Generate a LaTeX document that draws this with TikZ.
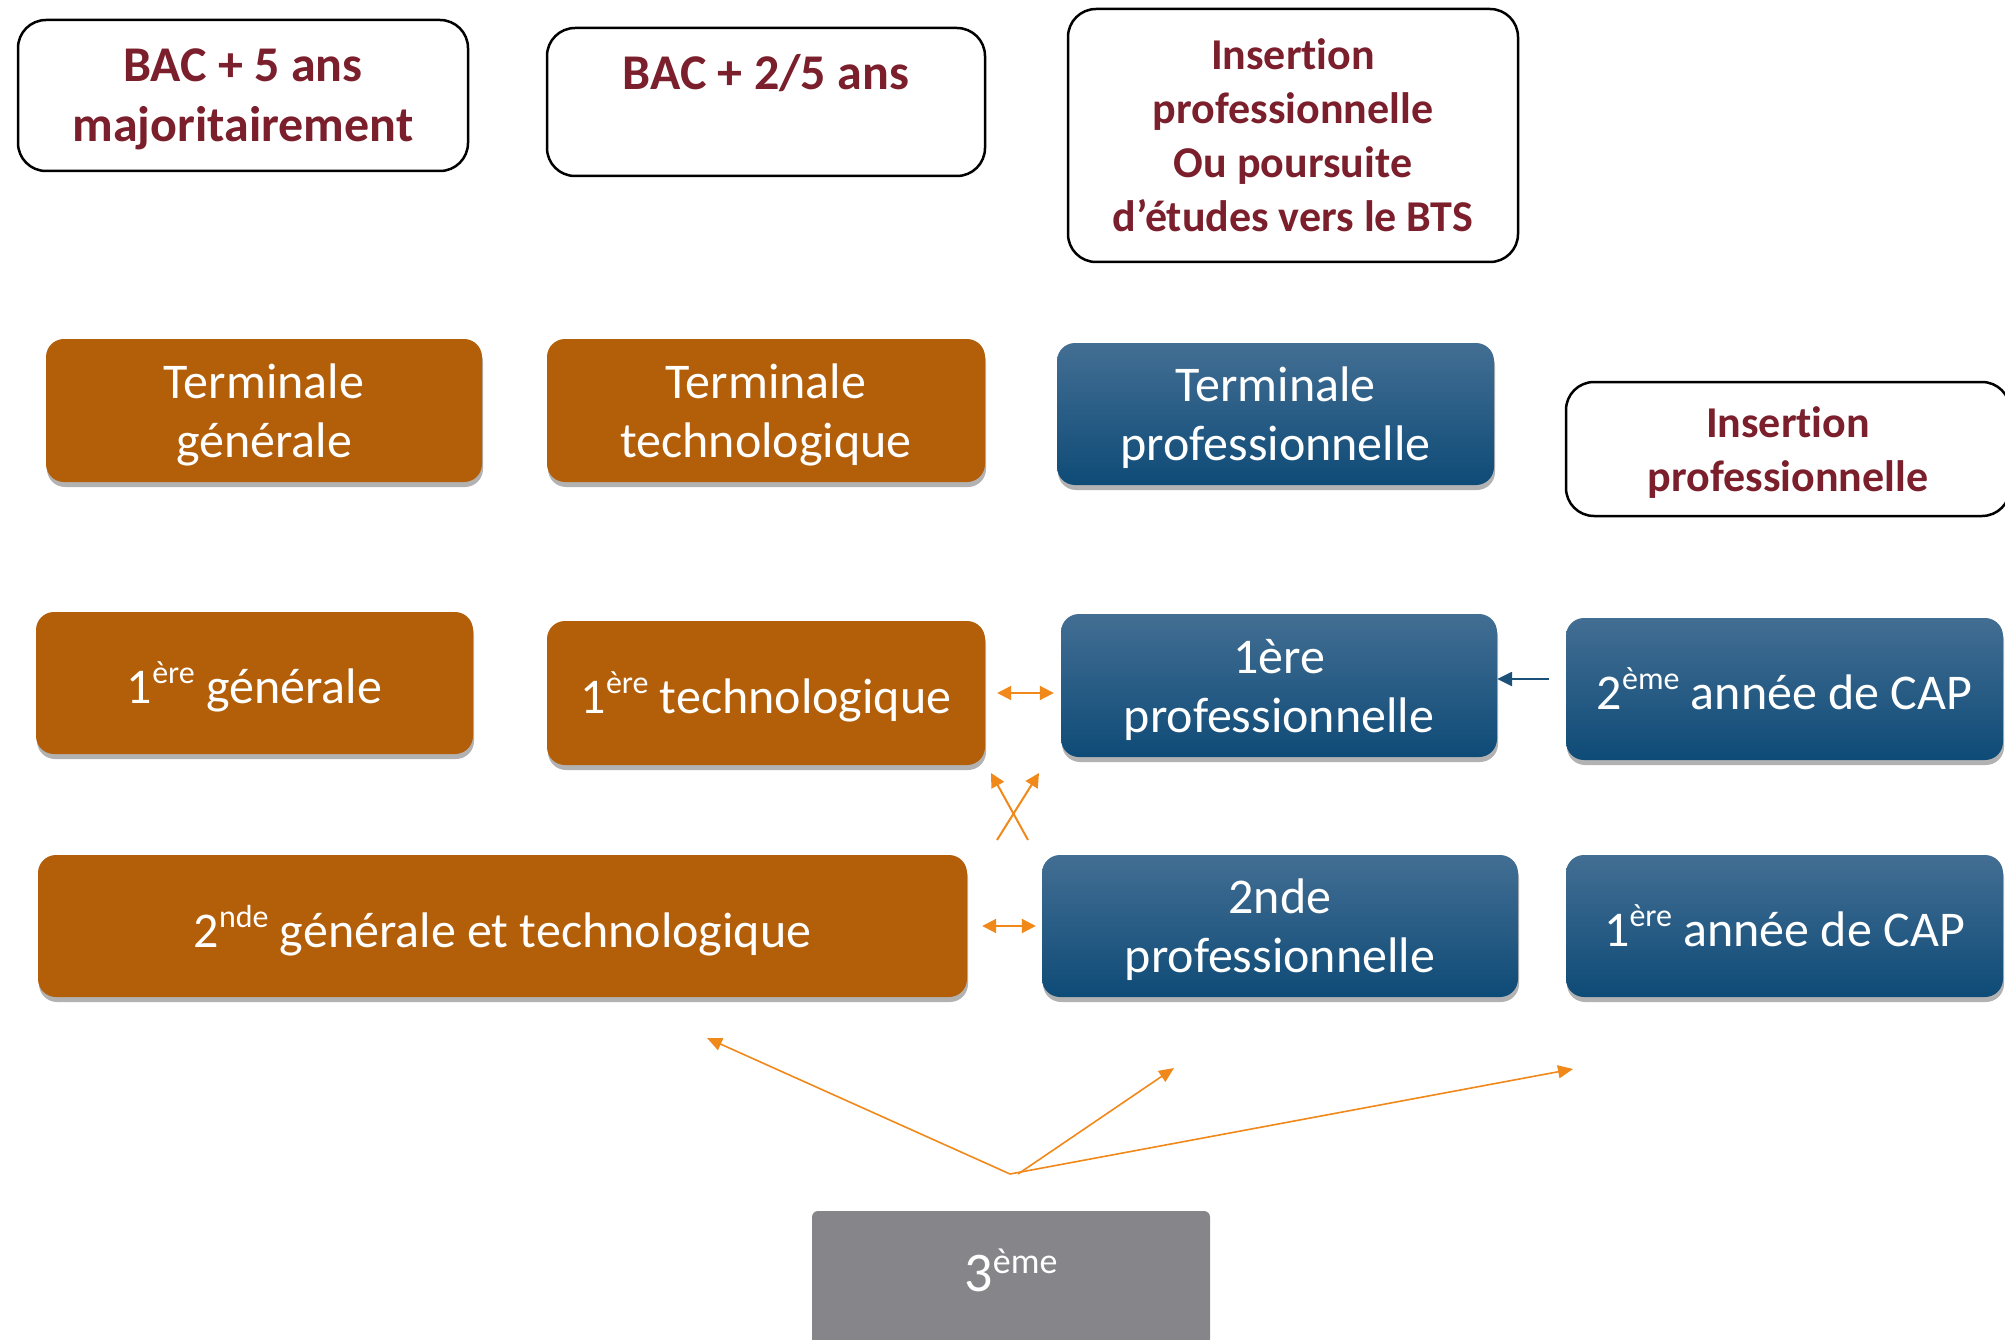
\documentclass[tikz,border=0pt]{standalone}
\usepackage{fontspec}
\setmainfont{Carlito}[Ligatures=NoCommon]
\usetikzlibrary{arrows.meta,shadows}
\definecolor{orng}{HTML}{B35E08}
\definecolor{btop}{HTML}{436E93}
\definecolor{bbot}{HTML}{0E4B77}
\definecolor{gry}{HTML}{86858A}
\definecolor{dred}{HTML}{7A1F2B}
\definecolor{arr}{HTML}{F0891A}
\definecolor{barr}{HTML}{1B5079}
\newcommand\supr[1]{\raisebox{0.4em}{\fontsize{32}{32}\selectfont #1}}
\begin{document}
\begin{tikzpicture}[x=1pt,y=-1pt,
 base/.style={rectangle, rounded corners=18pt, inner sep=0pt, align=center, text=white, text depth=0pt, font=\fontsize{50}{59}\selectfont},
 shad/.style={drop shadow={shadow xshift=1pt, shadow yshift=-5pt, opacity=0.3, fill=black}},
 obox/.style={base, fill=orng, shad},
 bbox/.style={base, top color=btop, bottom color=bbot, shad},
 gbox/.style={base, rounded corners=6pt, fill=gry, text depth=16pt, font=\fontsize{56}{60}\selectfont},
 wbox/.style={rectangle, rounded corners=28pt, draw=black, line width=2.5pt, fill=white, inner sep=0pt, align=center, text=dred, text depth=0pt, font=\bfseries\fontsize{50}{60}\selectfont},
 wsbox/.style={wbox, font=\bfseries\fontsize{44}{54}\selectfont},
 oarr/.style={draw=arr, line width=2pt, -{Triangle[length=14pt,width=14pt]}},
 odarr/.style={draw=arr, line width=2pt, {Triangle[length=14pt,width=14pt]}-{Triangle[length=14pt,width=14pt]}},
 farr/.style={draw=arr, line width=1.6pt, -{Triangle[length=15pt,width=13pt]}},
 barrow/.style={draw=barr, line width=2.5pt, -{Triangle[length=15pt,width=14pt]}}]
\useasboundingbox (0,0) rectangle (2005,1340);
% top white boxes
\node[wbox, minimum width=450pt, minimum height=151pt] (bac5) at (243,95.5) {BAC + 5 ans\\majoritairement};
\node[wbox, minimum width=438pt, minimum height=148pt] (bac25) at (766,102) {BAC + 2/5 ans\\\mbox{}};
\node[wsbox, minimum width=450pt, minimum height=253pt] (ins1) at (1293,135.5) {Insertion\\professionnelle\\Ou poursuite\\d’études vers le BTS};
\node[wsbox, minimum width=444pt, minimum height=134pt] (ins2) at (1788,449) {Insertion\\professionnelle};
% terminale row
\node[obox, minimum width=436pt, minimum height=143pt] (tg) at (264,410.5) {Terminale\\générale};
\node[obox, minimum width=438pt, minimum height=143pt] (tt) at (766,410.5) {Terminale\\technologique};
\node[bbox, minimum width=437pt, minimum height=142pt] (tp) at (1275.5,414) {Terminale\\professionnelle};
% premiere row
\node[obox, minimum width=437pt, minimum height=142pt] (g1) at (254.5,683) {1\supr{ère} générale};
\node[obox, minimum width=438pt, minimum height=144pt] (t1) at (766,693) {1\supr{ère} technologique};
\node[bbox, minimum width=436pt, minimum height=143pt] (p1) at (1279,685.5) {1ère\\professionnelle};
\node[bbox, minimum width=437pt, minimum height=142pt] (cap2) at (1784.5,689) {2\supr{ème} année de CAP};
% seconde row
\node[obox, minimum width=929pt, minimum height=142pt] (s2) at (502.5,926) {2\supr{nde} générale et technologique};
\node[bbox, minimum width=476pt, minimum height=142pt] (p2) at (1280,926) {2nde\\professionnelle};
\node[bbox, minimum width=437pt, minimum height=142pt] (cap1) at (1784.5,926) {1\supr{ère} année de CAP};
% troisieme
\node[gbox, minimum width=398pt, minimum height=134pt] (e3) at (1011,1278) {3\raisebox{0.33em}{\fontsize{36}{36}\selectfont ème}};
% connectors
\draw[odarr] ([xshift=12pt]t1.east) -- ([xshift=-7pt]t1.east -| p1.west);
\draw[odarr] ([xshift=15pt]s2.east) -- ([xshift=-6pt]s2.east -| p2.west);
\coordinate (xa1) at (997,840);
\coordinate (xa2) at (1039,773);
\coordinate (xb1) at (1028,840);
\coordinate (xb2) at (991,773);
\draw[oarr] (xa1) -- (xa2);
\draw[oarr] (xb1) -- (xb2);
\coordinate (cb) at (1549,679);
\draw[barrow] (cb) -- (cb -| p1.east);
\coordinate (o) at (1010,1174);
\coordinate (fl) at (707,1038);
\coordinate (fm) at (1174,1068);
\coordinate (fr) at (1573,1069);
\draw[farr] (o) -- (fl);
\draw[farr] ([xshift=8pt]o) -- (fm);
\draw[farr] (o) -- (fr);
\end{tikzpicture}
\end{document}
